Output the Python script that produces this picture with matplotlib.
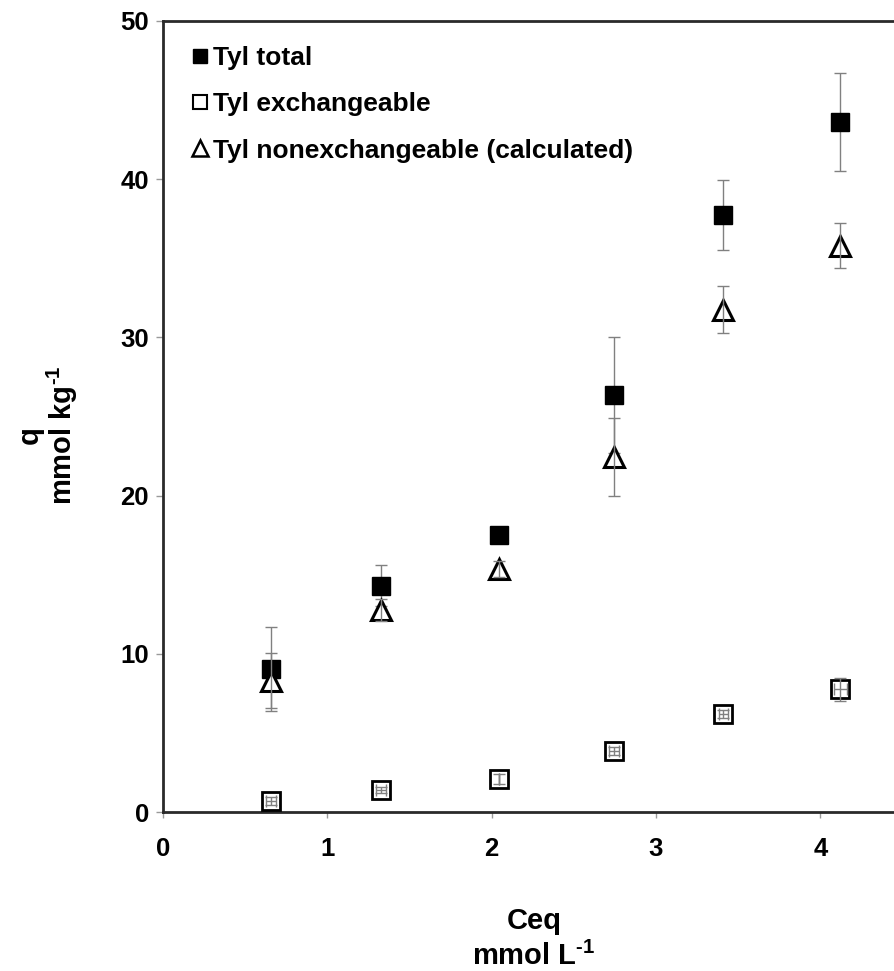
import matplotlib
matplotlib.use("Agg")
import matplotlib.pyplot as plt
from matplotlib.lines import Line2D

plt.rcParams['font.family'] = ['Liberation Sans', 'DejaVu Sans']
plt.rcParams['font.weight'] = 'bold'
plt.rcParams['mathtext.fontset'] = 'custom'
plt.rcParams['mathtext.rm'] = 'Liberation Sans:bold'
plt.rcParams['mathtext.bf'] = 'Liberation Sans:bold'
plt.rcParams['mathtext.default'] = 'bf'

# Equilibrium concentration (mmol/L)
ceq = [0.66, 1.33, 2.045, 2.745, 3.41, 4.12]

# Sorbed tylosin (mmol/kg)
tyl_total = [9.04, 14.3, 17.5, 26.35, 37.75, 43.6]
tyl_total_err = [2.65, 1.3, 0.3, 3.65, 2.2, 3.1]

tyl_exch = [0.7, 1.4, 2.1, 3.85, 6.2, 7.75]
tyl_exch_err = [0.25, 0.2, 0.3, 0.25, 0.25, 0.75]
tyl_exch_xerr = [0.03, 0.03, 0.0, 0.03, 0.03, 0.04]

tyl_nonexch = [8.3, 12.75, 15.36, 22.45, 31.75, 35.8]
tyl_nonexch_err = [1.75, 0.7, 0.5, 2.45, 1.5, 1.4]

labels = ["Tyl total", "Tyl exchangeable", "Tyl nonexchangeable (calculated)"]
x_ticks = [0, 1, 2, 3, 4]
y_ticks = [0, 10, 20, 30, 40, 50]

W, H = 894, 971
fig = plt.figure(figsize=(W / 100, H / 100), dpi=100)
ax = fig.add_axes([162.7 / W, 1 - 812 / H, 740 / W, 791 / H])

err_kw = dict(fmt='none', ecolor='#808080', elinewidth=1.0, capsize=4, capthick=1.0)

# filled squares: total (bars sit behind the solid markers)
ax.errorbar(ceq, tyl_total, yerr=tyl_total_err, zorder=1.5, **err_kw)
ax.plot(ceq, tyl_total, ls='none', marker='s', ms=12.5, mfc='black', mec='black', zorder=2)

# open squares: exchangeable
ax.plot(ceq, tyl_exch, ls='none', marker='s', ms=12.5, mfc='white', mec='black', mew=2.0, zorder=3)
ax.errorbar(ceq, tyl_exch, yerr=tyl_exch_err, xerr=tyl_exch_xerr, zorder=3.5, **err_kw)

# open triangles: nonexchangeable
ax.plot(ceq, tyl_nonexch, ls='none', marker='^', ms=14.5, mfc='white', mec='black', mew=2.2, zorder=4)
ax.errorbar(ceq, tyl_nonexch, yerr=tyl_nonexch_err, zorder=4.5, **err_kw)

ax.set_xlim(0, 4.5)
ax.set_ylim(0, 50)
ax.set_xticks(x_ticks)
ax.set_yticks(y_ticks)

for side in ['left', 'top', 'bottom']:
    ax.spines[side].set_linewidth(2.0)
    ax.spines[side].set_color('#2a2a2a')
ax.spines['right'].set_visible(False)

ax.tick_params(axis='x', direction='out', length=4, width=1, color='#999999',
               labelsize=18.5, pad=14)
ax.tick_params(axis='y', direction='out', length=5, width=1, color='#999999',
               labelsize=18.5, pad=5)
for lab in ax.get_xticklabels() + ax.get_yticklabels():
    lab.set_fontweight('bold')

handles = [
    Line2D([], [], ls='none', marker='s', ms=10.5, mfc='black', mec='black'),
    Line2D([], [], ls='none', marker='s', ms=10.5, mfc='white', mec='black', mew=1.5),
    Line2D([], [], ls='none', marker='^', ms=12, mfc='white', mec='black', mew=1.8),
]
leg = ax.legend(handles, labels, loc='upper left', bbox_to_anchor=(0.024, 0.982),
                frameon=False, prop={'size': 19, 'weight': 'bold'},
                handlelength=0.7, handletextpad=0.15, labelspacing=0.85,
                borderaxespad=0)

fig.text(534 / W, 1 - 939 / H, "Ceq\nmmol L$^{\\text{-1}}$", ha='center', va='center',
         fontsize=21, fontweight='bold', linespacing=1.3)
fig.text(48 / W, 1 - 435 / H, "q\nmmol kg$^{\\text{-1}}$", ha='center', va='center',
         rotation=90, fontsize=21, fontweight='bold', linespacing=1.02,
         multialignment='center')

fig.savefig("out.png", dpi=100)
